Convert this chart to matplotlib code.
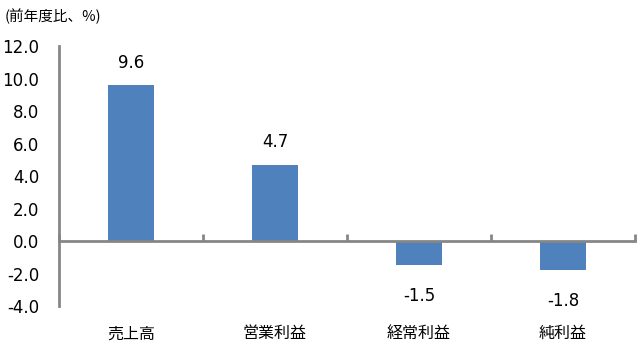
import matplotlib
matplotlib.use("Agg")
import matplotlib.pyplot as plt
import numpy as np

# ── Data ──────────────────────────────────────────────────────────────
categories = ["売上高", "営業利益", "経常利益", "純利益"]
values = [9.6, 4.7, -1.5, -1.8]
y_ticks = [12.0, 10.0, 8.0, 6.0, 4.0, 2.0, 0.0, -2.0, -4.0]

plt.rcParams["font.family"] = ["Noto Sans CJK JP", "DejaVu Sans"]

BAR_COLOR = "#4F81BD"
AXIS_COLOR = "#868686"

fig = plt.figure(figsize=(6.4, 3.49), dpi=100)
ax = fig.add_axes([0.092, 0.123, 0.9, 0.745])

x = np.arange(len(categories))
ax.bar(x, values, width=0.32, color=BAR_COLOR)

ax.set_xlim(-0.5, len(categories) - 0.5)
ax.set_ylim(-4, 12)

# value labels
for xi, v in zip(x, values):
    if v >= 0:
        ax.annotate(f"{v:.1f}", (xi, v), xytext=(0, 16), textcoords="offset points",
                    ha="center", va="center", fontsize=12, family="DejaVu Sans")
    else:
        ax.annotate(f"{v:.1f}", (xi, v), xytext=(0, -22), textcoords="offset points",
                    ha="center", va="center", fontsize=12, family="DejaVu Sans")

# axes styling
for s in ["top", "right"]:
    ax.spines[s].set_visible(False)
ax.spines["left"].set_color(AXIS_COLOR)
ax.spines["left"].set_linewidth(2)
ax.spines["bottom"].set_position(("data", 0))
ax.spines["bottom"].set_color(AXIS_COLOR)
ax.spines["bottom"].set_linewidth(2)

ax.set_yticks(y_ticks)
ax.set_yticklabels([f"{t:.1f}" for t in y_ticks], fontsize=12, family="DejaVu Sans")
ax.tick_params(axis="y", length=0, pad=14)

ax.set_xticks(np.arange(len(categories) + 1) - 0.5)
ax.set_xticklabels([])
ax.tick_params(axis="x", direction="in", length=5, width=2, color=AXIS_COLOR)

for xi, c in zip(x, categories):
    ax.text(xi, -4, c, transform=ax.transData, ha="center", va="center",
            fontsize=11.5).set_position((xi, -5.7))

fig.text(0.008, 0.952, "(前年度比、%)", fontsize=10.5, ha="left", va="center")

fig.savefig("out.png", dpi=100)
